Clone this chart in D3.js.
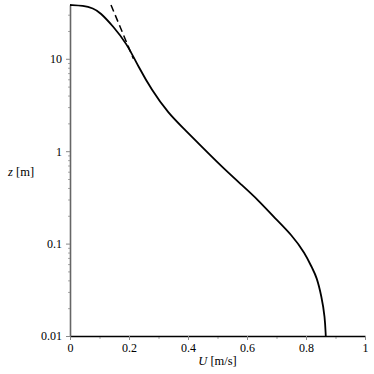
<!DOCTYPE html>
<html>
<head>
<meta charset="utf-8">
<script src="https://cdn.jsdelivr.net/npm/d3@7"></script>
<style>
  body { margin: 0; background: #fff; }
</style>
</head>
<body>
<svg id="chart"></svg>
<script>
// velocity profile: U [m/s] against height z [m]
const profileU = [0, 0.045, 0.079, 0.102, 0.146, 0.192, 0.232, 0.277, 0.333, 0.390, 0.446, 0.520, 0.582, 0.638, 0.695, 0.752, 0.797, 0.821, 0.836, 0.853, 0.864, 0.867]
const profileZ = [38.2, 37.6, 35.2, 31.8, 22.5, 14.7, 8.2, 4.59, 2.57, 1.70, 1.12, 0.653, 0.431, 0.296, 0.188, 0.124, 0.0785, 0.054, 0.0439, 0.0266, 0.0162, 0.01]

// dashed log-law line near the top
const dashU = [0.139, 0.215]
const dashZ = [38.2, 10]

const xTicks = [0, 0.2, 0.4, 0.6, 0.8, 1]
const xMinor = [0.1, 0.3, 0.5, 0.7, 0.9]
const yTicks = [0.01, 0.1, 1, 10]
const yLabels = ["0.01", "0.1", "1", "10"]

const W = 374, H = 374
const MARGIN = {left: 70, right: 9, top: 5, bottom: 38}
const FONT = "Liberation Serif"

const svg = d3.select("#chart").attr("width", W).attr("height", H)

const x = d3.scaleLinear().domain([0, 1]).range([MARGIN.left, W - MARGIN.right])
const y = d3.scaleLog().domain([0.01, 38.2]).range([H - MARGIN.bottom, MARGIN.top])

// minor ticks on the log axis: 2..9 in each decade
let yMinor = []
yTicks.forEach(t => {
    for (let k = 2; k <= 9; k++) {
        if (t * k < 38.2) yMinor.push(t * k)
    }
})

// x axis
const gx = svg.append("g").attr("transform", `translate(0,${H - MARGIN.bottom})`)
gx.call(d3.axisBottom(x).tickValues(xMinor).tickSize(3).tickFormat(""))
gx.selectAll("line").attr("stroke", "#aaa")
gx.select(".domain").remove()
const gx2 = svg.append("g").attr("transform", `translate(0,${H - MARGIN.bottom})`)
gx2.call(d3.axisBottom(x).tickValues(xTicks).tickSize(4).tickSizeOuter(0).tickPadding(3)
    .tickFormat(d => d3.format("")(d)))
gx2.select(".domain").attr("stroke", "#000").attr("stroke-width", 1.3)
gx2.selectAll(".tick line").attr("stroke", "#888")
gx2.selectAll("text").attr("font-size", 12).attr("fill", "#000").attr("font-family", FONT)

// y axis
const gy = svg.append("g").attr("transform", `translate(${MARGIN.left},0)`)
gy.call(d3.axisLeft(y).tickValues(yMinor).tickSize(2).tickFormat(""))
gy.selectAll("line").attr("stroke", "#aaa")
gy.select(".domain").remove()
const gy2 = svg.append("g").attr("transform", `translate(${MARGIN.left},0)`)
gy2.call(d3.axisLeft(y).tickValues(yTicks).tickSize(4).tickSizeOuter(0).tickPadding(4)
    .tickFormat((d, i) => yLabels[i]))
gy2.select(".domain").attr("stroke", "#666").attr("stroke-width", 1.6)
gy2.selectAll(".tick line").attr("stroke", "#888")
gy2.selectAll("text").attr("font-size", 12).attr("fill", "#000").attr("font-family", FONT)

// axis titles
const xt = svg.append("text")
    .attr("x", x(0.5)).attr("y", H - 9)
    .attr("text-anchor", "middle").attr("font-size", 12.5).attr("font-family", FONT)
xt.append("tspan").attr("font-style", "italic").text("U")
xt.append("tspan").text(" [m/s]")

const yt = svg.append("text")
    .attr("x", 8).attr("y", y(0.6) + 4)
    .attr("font-size", 12.5).attr("font-family", FONT)
yt.append("tspan").attr("font-style", "italic").text("z")
yt.append("tspan").text(" [m]")

// lines
const profile = profileU.map((u, i) => ({u: u, z: profileZ[i]}))
const dash = dashU.map((u, i) => ({u: u, z: dashZ[i]}))

const line = d3.line()
    .x(d => x(d.u))
    .y(d => y(d.z))

svg.append("path")
    .datum(dash)
    .attr("fill", "none")
    .attr("stroke", "#000")
    .attr("stroke-width", 1.5)
    .attr("stroke-dasharray", "7,4")
    .attr("d", line)

svg.append("path")
    .datum(profile)
    .attr("fill", "none")
    .attr("stroke", "#000")
    .attr("stroke-width", 1.8)
    .attr("d", line.curve(d3.curveBasis))
</script>
</body>
</html>
